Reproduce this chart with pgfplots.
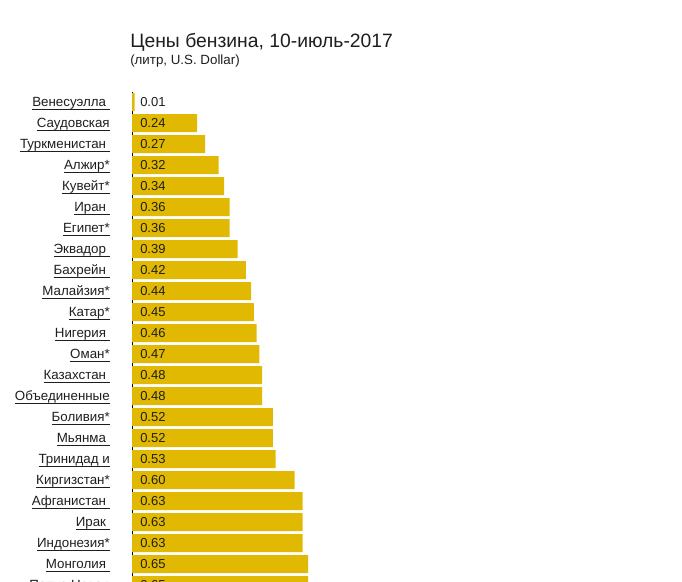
\documentclass[border=0pt]{standalone}
\usepackage{fontspec}
\setmainfont{Liberation Sans}
\usepackage{pgfplots}
\pgfplotsset{compat=1.18}
\usepackage{pgfplotstable}
\definecolor{bargold}{RGB}{226,185,2}
\definecolor{txt}{RGB}{30,30,30}

% row index, price (USD per litre), printed label
\pgfplotstableread{
row val lab
0  0.01 0.01
1  0.24 0.24
2  0.27 0.27
3  0.32 0.32
4  0.34 0.34
5  0.36 0.36
6  0.36 0.36
7  0.39 0.39
8  0.42 0.42
9  0.44 0.44
10 0.45 0.45
11 0.46 0.46
12 0.47 0.47
13 0.48 0.48
14 0.48 0.48
15 0.52 0.52
16 0.52 0.52
17 0.53 0.53
18 0.60 0.60
19 0.63 0.63
20 0.63 0.63
21 0.63 0.63
22 0.65 0.65
23 0.65 0.65
}\prices

\newcommand\ul[1]{\underline{\smash{#1}}}

\begin{document}
\begin{tikzpicture}
\path[use as bounding box] (0,0) rectangle (511.5pt,-436.5pt);
\clip (0,0) rectangle (511.5pt,-436.5pt);

\node[anchor=base west, inner sep=0pt, font=\fontsize{14.5}{17}\selectfont, text=txt]
  at (97.5pt,-35.5pt) {Цены бензина, 10-июль-2017};
\node[anchor=base west, inner sep=0pt, font=\fontsize{10}{12}\selectfont, text=txt]
  at (97.5pt,-48.5pt) {(литр, U.S. Dollar)};

\begin{axis}[
  at={(99pt,-68.625pt)}, anchor=north west,
  x=203.25pt, y=15.75pt, y dir=reverse,
  xmin=0, xmax=1.5, ymin=-0.5, ymax=23.5,
  axis x line=none, axis y line*=left,
  y axis line style={black, line width=0.75pt},
  ytick={0,...,23}, major tick length=0pt,
  yticklabels={
    \ul{Венесуэлла\ },\ul{Саудовская},\ul{Туркменистан\ },\ul{Алжир*},
    \ul{Кувейт*},\ul{Иран\ },\ul{Египет*},\ul{Эквадор\ },\ul{Бахрейн\ },
    \ul{Малайзия*},\ul{Катар*},\ul{Нигерия\ },\ul{Оман*},\ul{Казахстан\ },
    \ul{Объединенные},\ul{Боливия*},\ul{Мьянма\ },\ul{Тринидад и},
    \ul{Киргизстан*},\ul{Афганистан\ },\ul{Ирак\ },\ul{Индонезия*},
    \ul{Монголия\ },\ul{Папуа Новая}},
  yticklabel style={anchor=base east, inner sep=0pt, xshift=-16.5pt, yshift=-3.7pt,
    font=\fontsize{10}{12}\selectfont, text=txt},
  clip=false,
]
\addplot[xbar, bar width=13.5pt, fill=bargold, draw=none]
  table[x=val, y=row] {\prices};
\addplot[only marks, mark=*, mark size=0pt, mark options={draw=none, fill=none},
  nodes near coords, point meta=explicit symbolic,
  nodes near coords style={anchor=west, inner sep=0pt, xshift=6pt,
    font=\fontsize{9.75}{12}\selectfont, text=txt}]
  table[x expr=0, y=row, meta=lab] {\prices};
\end{axis}
\end{tikzpicture}
\end{document}
